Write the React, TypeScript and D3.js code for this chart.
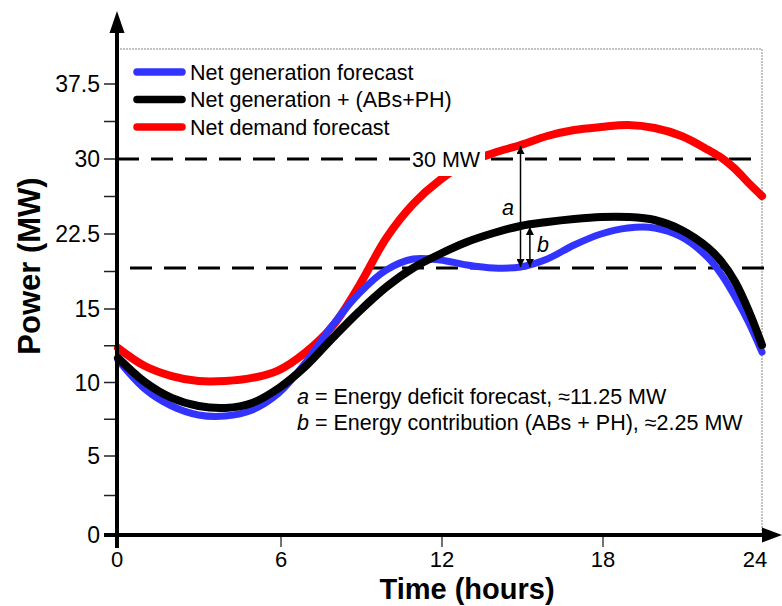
import React from 'react';
import * as d3 from 'd3';

// hours of the day
const hours = [0, 1, 2, 3, 4, 5, 6, 7, 8, 9, 10, 11, 12, 13, 14, 15, 16, 17, 18, 19, 20, 21, 22, 22.5, 23, 23.5, 24];

// MW
const netGeneration = [11.53, 9.56, 8.4, 7.79, 7.72, 8.13, 9.29, 11.39, 13.91, 16.6, 18.9, 20.0, 19.9, 19.4, 19.1, 19.2, 20.0, 21.4, 22.5, 23.1, 23.1, 22.2, 20.1, 18.4, 16.2, 14.1, 12.07];
const netGenerationStorage = [11.67, 10.03, 8.95, 8.4, 8.27, 8.61, 9.63, 11.12, 13.03, 14.86, 17.2, 19.1, 20.5, 21.7, 22.6, 23.3, 23.7, 24.0, 24.2, 24.2, 23.9, 22.9, 21.1, 19.7, 17.7, 14.9, 12.55];
const netDemand = [12.35, 11.12, 10.44, 10.1, 10.1, 10.31, 10.85, 12.07, 13.84, 17.4, 22.1, 25.5, 27.9, 29.6, 30.6, 31.4, 32.3, 32.9, 33.2, 33.4, 33.1, 32.3, 30.9, 30.1, 29.0, 27.6, 26.3];

const seriesNames = ['Net generation forecast', 'Net generation + (ABs+PH)', 'Net demand forecast'];
const seriesColors = ['#3333ff', '#000000', '#ff0000'];
const seriesData = [netGeneration, netGenerationStorage, netDemand];

const xTicks = [0, 6, 12, 18, 24];
const yTicks = [0, 5, 10, 15, 22.5, 30, 37.5];
const yMinorTicks = [2.5, 7.5, 12.5, 18.75, 26.25, 33.75];

const capLevel = 30;
const supplyLevel = 19.1;
const frameTop = 41;
// [hour, from, to]
const arrowA = [15, 19.1, 31.3];
const arrowB = [15.35, 19.1, 23.2];

const font = 'Liberation Sans, Arial, sans-serif';

export default function App() {
  const width = 782;
  const height = 606;

  const x = d3.scaleLinear().domain([0, 24]).range([118, 762]);
  // axis is stretched differently below and above 15 MW in the original
  const y = d3.scaleLinear().domain([0, 5, 15, 37.5]).range([535, 456, 309, 84]);

  const line = (vals: number[]) =>
    d3.line<number>()
      .x((_, i) => x(hours[i]))
      .y(d => y(d))
      .curve(d3.curveCatmullRom.alpha(0.5))(vals) as string;

  // draw red first, then blue, black on top
  const drawOrder = [2, 0, 1];

  const yAxisX = 117;
  const xAxisY = y(0);

  return (
    <svg width={width} height={height} style={{ position: 'absolute', left: 0, top: 0, background: '#fff' }}
      fontFamily={font}>
      <defs>
        <marker id="ah" viewBox="0 0 10 10" refX="10" refY="5" markerWidth="9" markerHeight="8"
          markerUnits="userSpaceOnUse" orient="auto-start-reverse">
          <path d="M0,0 L10,5 L0,10 z" fill="#000" />
        </marker>
      </defs>

      {/* dotted frame */}
      <path d={`M${yAxisX},${y(frameTop)} H${x(24)} V${xAxisY}`} fill="none" stroke="#888"
        strokeWidth={1} strokeDasharray="2,1" />

      {/* reference dashed lines */}
      <line x1={yAxisX} x2={x(24) - 3} y1={y(capLevel)} y2={y(capLevel)} stroke="#000" strokeWidth={3}
        strokeDasharray="22,12" />
      <line x1={130} x2={772} y1={y(supplyLevel)} y2={y(supplyLevel)} stroke="#000" strokeWidth={3}
        strokeDasharray="22,12" />

      {/* curves */}
      {drawOrder.map(k => (
        <path key={k} d={line(seriesData[k])} fill="none" stroke={seriesColors[k]}
          strokeWidth={k === 0 ? 7 : 8} strokeLinecap="round" strokeLinejoin="round" />
      ))}

      {/* 30 MW label */}
      <rect x={410} y={y(capLevel) - 13} width={75} height={30} fill="#fff" />
      <text x={412} y={y(capLevel) + 8} fontSize={21.5}>30 MW</text>

      {/* a / b arrows */}
      <line x1={x(arrowA[0])} x2={x(arrowA[0])} y1={y(arrowA[1]) - 1} y2={y(arrowA[2])} stroke="#000"
        strokeWidth={1.5} markerStart="url(#ah)" markerEnd="url(#ah)" />
      <line x1={x(arrowB[0])} x2={x(arrowB[0])} y1={y(arrowB[1]) - 1} y2={y(arrowB[2])} stroke="#000"
        strokeWidth={1.5} markerStart="url(#ah)" markerEnd="url(#ah)" />
      <text x={508} y={215} fontSize={21.5} fontStyle="italic" textAnchor="middle">a</text>
      <text x={543} y={252} fontSize={21.5} fontStyle="italic" textAnchor="middle">b</text>

      {/* annotation */}
      <text x={297} y={404} fontSize={21.5}>
        <tspan fontStyle="italic">a</tspan> = Energy deficit forecast, ≈11.25 MW
      </text>
      <text x={297} y={430} fontSize={21.5}>
        <tspan fontStyle="italic">b</tspan> = Energy contribution (ABs + PH), ≈2.25 MW
      </text>

      {/* legend */}
      {seriesNames.map((name, i) => (
        <g key={name} transform={`translate(0,${72 + i * 27.5})`}>
          <line x1={137} x2={182} y1={0} y2={0} stroke={seriesColors[i]} strokeWidth={7.5}
            strokeLinecap="round" />
          <text x={190} y={7.5} fontSize={21.5}>{name}</text>
        </g>
      ))}

      {/* y axis */}
      {yTicks.concat(yMinorTicks).map(t => (
        <line key={'yt' + t} x1={104} x2={yAxisX} y1={y(t)} y2={y(t)} stroke="#222" strokeWidth={1.5} />
      ))}
      {yTicks.map(t => (
        <text key={'yl' + t} x={100} y={y(t) + 8} fontSize={23} textAnchor="end">{t}</text>
      ))}
      <line x1={yAxisX} x2={yAxisX} y1={30} y2={548} stroke="#000" strokeWidth={4} />
      <path d={`M${yAxisX},11 L${yAxisX + 7.5},33 L${yAxisX - 7.5},33 z`} fill="#000" />

      {/* x axis */}
      {xTicks.slice(1, 4).map(t => (
        <line key={'xt' + t} x1={x(t) + 2} x2={x(t) + 2} y1={xAxisY} y2={xAxisY + 12} stroke="#444"
          strokeWidth={1.5} />
      ))}
      {xTicks.map((t, i) => (
        <text key={'xl' + t} x={i === 0 ? yAxisX : i === 4 ? 755 : x(t) + 2} y={567} fontSize={22}
          textAnchor="middle">{t}</text>
      ))}
      <line x1={104} x2={766} y1={xAxisY} y2={xAxisY} stroke="#000" strokeWidth={4} />
      <path d={`M782,${xAxisY} L762,${xAxisY - 7.5} L762,${xAxisY + 7.5} z`} fill="#000" />

      {/* axis titles */}
      <text x={467} y={599} fontSize={29} fontWeight="bold" textAnchor="middle">Time (hours)</text>
      <text transform="translate(40,266) rotate(-90)" fontSize={31} fontWeight="bold" textAnchor="middle">
        Power (MW)
      </text>
    </svg>
  );
}
